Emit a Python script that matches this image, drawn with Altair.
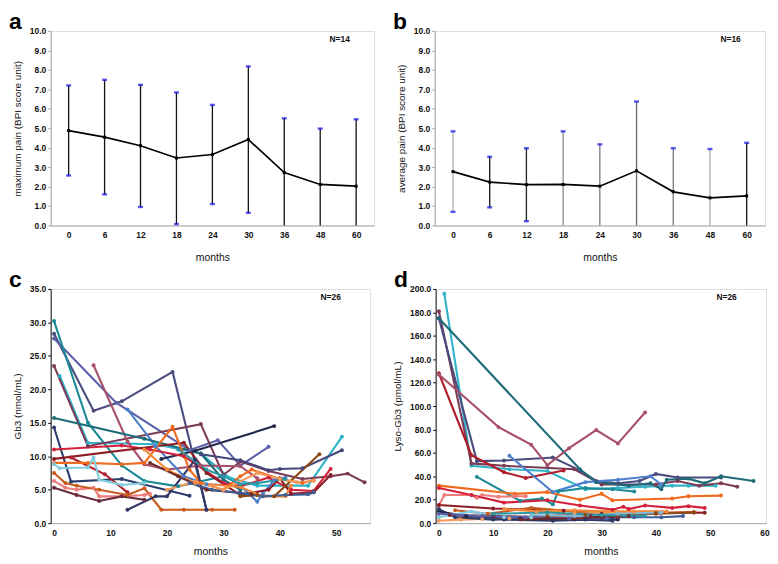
import altair as alt
import pandas as pd

FONT = "Liberation Sans"

# ---------------- panels a & b (BPI pain) ----------------
months_ab = ["0", "6", "12", "18", "24", "30", "36", "48", "60"]

a_mean = [4.88, 4.54, 4.10, 3.47, 3.65, 4.42, 2.72, 2.11, 2.02]
a_upper = [7.20, 7.49, 7.23, 6.84, 6.20, 8.18, 5.51, 4.98, 5.46]
a_lower = [2.57, 1.60, 0.95, 0.07, 1.10, 0.65, 0.0, 0.0, 0.0]
a_bar_colors = ["#111111"] * 9

b_mean = [2.77, 2.23, 2.10, 2.11, 2.02, 2.81, 1.73, 1.42, 1.52]
b_upper = [4.84, 3.53, 3.97, 4.84, 4.17, 6.37, 3.97, 3.93, 4.25]
b_lower = [0.70, 0.93, 0.22, 0.0, 0.0, 0.0, 0.0, 0.0, 0.0]
b_bar_colors = ["#b0b0b0", "#111111", "#222222", "#8a8a8a", "#7a7a7a",
                "#6a6a6a", "#7a7a7a", "#a8a8a8", "#111111"]

# ---------------- panel c (Gb3) ----------------
c01_m = [0, 7, 12, 21, 27];                 c01_v = [28.3, 16.8, 18.2, 22.6, 2.0]
c02_m = [0, 11, 24, 29, 33, 38];            c02_v = [27.6, 18.0, 10.9, 12.4, 8.6, 11.4]
c03_m = [0, 6, 12, 16, 22, 30];             c03_v = [30.2, 15.0, 8.6, 6.3, 5.5, 7.0]
c04_m = [1, 6, 18, 26, 31, 36, 45, 51];     c04_v = [22.0, 12.0, 11.8, 10.4, 6.8, 5.6, 5.6, 12.9]
c05_m = [0, 6, 26, 30, 33, 38, 44, 49, 52, 55]
c05_v = [23.5, 11.5, 14.8, 7.2, 9.2, 7.8, 6.6, 7.0, 7.4, 6.1]
c06_m = [7, 13, 16, 20, 26, 33, 36];        c06_v = [23.6, 12.2, 8.8, 8.0, 8.6, 8.5, 6.7]
c07_m = [13, 18, 23, 27, 33, 36, 37, 39, 41]
c07_v = [17.0, 11.5, 7.0, 5.8, 5.6, 3.2, 4.4, 6.4, 6.8]
c08_m = [0, 16, 26, 30, 33];                c08_v = [15.7, 12.6, 10.4, 6.5, 5.0]
c09_m = [0, 3, 12, 24];                     c09_v = [14.3, 6.2, 6.6, 4.1]
c10_m = [19, 25, 39];                       c10_v = [9.6, 10.8, 14.5]
c11_m = [26, 33, 38, 40, 44, 51];           c11_v = [10.3, 9.4, 7.9, 8.1, 8.2, 10.9]
c12_m = [0, 12, 17, 23, 30, 33, 38, 42, 46, 49]
c12_v = [11.0, 11.6, 11.0, 10.0, 6.0, 5.5, 6.8, 5.0, 4.8, 8.1]
c13_m = [0, 23, 27, 33, 38, 40, 42, 46, 49]
c13_v = [9.6, 12.0, 7.5, 4.2, 5.0, 6.7, 4.4, 4.6, 7.2]
c14_m = [3, 9, 13];                         c14_v = [9.8, 7.3, 4.6]
c15_m = [0, 6, 12, 16, 21, 24, 26, 30, 33, 35, 40, 44, 46]
c15_v = [9.0, 9.0, 8.8, 9.0, 14.4, 8.0, 6.0, 5.0, 7.0, 8.0, 6.6, 6.0, 6.4]
c16_m = [0, 1, 6, 7, 8, 12, 16];            c16_v = [8.8, 8.2, 8.3, 9.8, 6.5, 5.7, 6.0]
c17_m = [0, 2, 4, 7, 8, 12, 16, 17];        c17_v = [6.3, 5.3, 5.0, 5.3, 4.0, 4.0, 4.2, 4.4]
c18_m = [0, 2, 4, 8, 13, 16, 19, 23, 28, 32]
c18_v = [7.5, 6.0, 5.6, 5.0, 4.2, 5.2, 2.0, 2.0, 2.0, 2.0]
c19_m = [0, 4, 8, 12, 16];                  c19_v = [5.3, 4.2, 3.3, 4.0, 3.5]
c20_m = [13, 18, 20, 25, 27];               c20_v = [2.0, 4.0, 4.0, 9.5, 2.0]
c21_m = [33, 36, 39, 47];                   c21_v = [4.0, 4.2, 4.0, 10.3]
c22_m = [20, 25, 30, 36, 40, 43, 46];       c22_v = [5.0, 6.2, 5.0, 7.5, 6.6, 6.1, 6.3]
c23_m = [16, 20, 25, 33, 37, 41, 42];       c23_v = [11.0, 8.0, 6.0, 5.4, 4.0, 4.0, 5.6]
c24_m = [17, 22, 27, 33, 35];               c24_v = [9.0, 7.0, 5.0, 4.5, 4.3]
c25_m = [24, 28, 33, 37, 41, 45, 46];       c25_v = [6.0, 5.0, 4.5, 4.0, 4.2, 4.3, 4.6]
c26_m = [22, 27, 30, 33, 36, 41];           c26_v = [11.0, 8.0, 7.0, 5.8, 6.0, 6.6]

# ---------------- panel d (Lyso-Gb3) ----------------
d01_m = [1, 6, 13, 20, 27, 33, 38, 43, 46, 51]
d01_v = [196, 49, 46, 44.5, 29, 30, 31, 32, 32, 32]
d02_m = [0, 6, 12, 25, 30, 40, 44, 48, 52, 55]
d02_v = [181, 51, 49, 46, 33, 33, 36, 32, 34, 31]
d03_m = [0, 7, 12, 21, 26, 29, 33, 37, 40, 44, 52]
d03_v = [175, 53, 53.5, 56, 45, 36, 34, 36, 42, 39, 39]
d04_m = [0, 26, 29, 35, 39, 41, 42, 46, 49, 52, 58]
d04_v = [175, 46, 35, 32, 34, 29, 37, 38, 34, 40, 36]
d05_m = [0, 6, 12, 16, 23];                 d05_v = [128, 58, 43.5, 38.5, 45]
d06_m = [0, 11, 17, 20, 24, 29, 33, 38];    d06_v = [127, 82, 67, 49.5, 64, 79.5, 68, 94.5]
d07_m = [7, 15, 19, 21, 22, 27, 32, 36];    d07_v = [39.5, 19, 21, 16, 27, 30, 29, 27]
d08_m = [13, 21, 27, 33, 39, 41];           d08_v = [57.5, 26.5, 35, 37, 40, 33]
d09_m = [0, 14, 20, 26, 30, 32, 43, 46, 52]
d09_v = [32, 25, 26.5, 20, 25, 19.5, 21, 23, 23.5]
d10_m = [0, 1, 6, 7, 8, 11, 14, 16];        d10_v = [15, 24, 24, 21.5, 24, 22.5, 23, 23]
d11_m = [0, 6, 12, 20, 26, 32, 34, 35, 38, 43, 46, 49]
d11_v = [30, 24, 17.5, 19.5, 15, 11.5, 14, 12, 15, 13, 14.5, 13]
d12_m = [0, 10, 23, 30, 40, 47, 49];        d12_v = [15.5, 12.5, 10.5, 8, 8.5, 9, 8.8]
d13_m = [3, 9, 17, 25, 33, 40, 47];         d13_v = [11, 8, 13, 10, 9, 8.5, 9.5]
d14_m = [0, 4, 8, 13, 17, 25, 33, 41];      d14_v = [2, 3, 3.5, 4, 5, 8, 9, 10]
d15_m = [0, 3, 10, 20, 32];                 d15_v = [12, 5, 3, 4, 3]
d16_m = [0, 5, 15, 25, 33];                 d16_v = [10, 6, 4, 3, 3]
d17_m = [12, 21, 27, 32];                   d17_v = [3, 2, 3, 2]
d18_m = [30, 36, 41, 45];                   d18_v = [5, 5, 5, 6]
d19_m = [0, 6, 12, 17];                     d19_v = [5, 10, 5, 5]
d20_m = [2, 10, 20, 28, 33];                d20_v = [7, 6, 5, 6, 5]
d21_m = [20, 27, 33, 40, 47];               d21_v = [6, 7, 7, 8, 9]
d22_m = [0, 8, 16, 24, 31];                 d22_v = [8, 6, 5, 4, 4]
d23_m = [12, 18, 25, 31, 36, 42];           d23_v = [12, 10, 11, 10, 10, 10]
d24_m = [15, 20, 25, 30, 35];               d24_v = [3, 4, 4, 5, 6]
d25_m = [17, 25, 33, 41];                   d25_v = [7, 6, 8, 9]
d26_m = [10, 20, 30, 38];                   d26_v = [8, 9, 7, 6]

c_series = [(c01_m, c01_v), (c02_m, c02_v), (c03_m, c03_v), (c04_m, c04_v), (c05_m, c05_v),
            (c06_m, c06_v), (c07_m, c07_v), (c08_m, c08_v), (c09_m, c09_v), (c10_m, c10_v),
            (c11_m, c11_v), (c12_m, c12_v), (c13_m, c13_v), (c14_m, c14_v), (c15_m, c15_v),
            (c16_m, c16_v), (c17_m, c17_v), (c18_m, c18_v), (c19_m, c19_v), (c20_m, c20_v),
            (c21_m, c21_v), (c22_m, c22_v), (c23_m, c23_v), (c24_m, c24_v), (c25_m, c25_v),
            (c26_m, c26_v)]
d_series = [(d01_m, d01_v), (d02_m, d02_v), (d03_m, d03_v), (d04_m, d04_v), (d05_m, d05_v),
            (d06_m, d06_v), (d07_m, d07_v), (d08_m, d08_v), (d09_m, d09_v), (d10_m, d10_v),
            (d11_m, d11_v), (d12_m, d12_v), (d13_m, d13_v), (d14_m, d14_v), (d15_m, d15_v),
            (d16_m, d16_v), (d17_m, d17_v), (d18_m, d18_v), (d19_m, d19_v), (d20_m, d20_v),
            (d21_m, d21_v), (d22_m, d22_v), (d23_m, d23_v), (d24_m, d24_v), (d25_m, d25_v),
            (d26_m, d26_v)]

c_colors = ["#4a4c7e", "#5c60a8", "#1a8a96", "#2fb3c9", "#7b3a56", "#a8506a", "#4d7fcc",
            "#1d6b78", "#2b3d6b", "#23284d", "#45477a", "#d4213a", "#8c1c24", "#b0202e",
            "#f06a1e", "#80cde0", "#ef7b7b", "#c85a1e", "#6b2b3e", "#2f3766", "#8b4a14",
            "#f59a5c", "#f28a3a", "#6e2a2a", "#3c5e96", "#2a95a3"]
d_colors = ["#2fb3c9", "#7b3a56", "#4a4c7e", "#1d6b78", "#b01c2a", "#a8506a", "#1a8a96",
            "#4d7fcc", "#f06a1e", "#ef7b7b", "#d4213a", "#8c1c24", "#c85a1e", "#f59a5c",
            "#2b3d6b", "#23284d", "#2f3766", "#3c5e96", "#80cde0", "#6b2b3e", "#8b4a14",
            "#5c60a8", "#f28a3a", "#6e2a2a", "#7fb8d8", "#2a95a3"]


def label_layer(letter):
    return alt.Chart(pd.DataFrame({"t": [letter]})).mark_text(
        font=FONT, fontSize=23, fontWeight="bold", align="left", baseline="alphabetic",
        color="black").encode(text="t:N", x=alt.value(-42), y=alt.value(-2))


def n_layer(txt, xpos):
    return alt.Chart(pd.DataFrame({"t": [txt]})).mark_text(
        font=FONT, fontSize=8.5, fontWeight="bold", align="left", baseline="middle",
        color="#111").encode(text="t:N", x=alt.value(xpos), y=alt.value(8))


def pain_panel(letter, mean, upper, lower, bar_colors, ytitle, ntext, width, height):
    df = pd.DataFrame({"month": months_ab, "mean": mean, "upper": upper,
                       "lower": lower, "bc": bar_colors})
    x = alt.X("month:N", sort=months_ab, scale=alt.Scale(type="point", padding=0.5),
              axis=alt.Axis(title="months", labelAngle=0, ticks=False, domainColor="#a8a8a8",
                            labelFontWeight="bold", labelFontSize=8.5, labelPadding=5,
                            titlePadding=14, titleFontSize=10.5, titleFontWeight="normal"))
    yscale = alt.Scale(domain=[0, 10], nice=False)
    yaxis = alt.Axis(title=ytitle, values=list(range(0, 11)), format=".1f", grid=False,
                     tickSize=3, domainColor="#a8a8a8", tickColor="#a8a8a8",
                     labelFontWeight="bold", labelFontSize=8.5, labelPadding=2,
                     titlePadding=7, titleFontSize=10, titleFontWeight="normal")
    base = alt.Chart(df)
    rules = base.mark_rule(strokeWidth=1.3).encode(
        x=x, y=alt.Y("lower:Q", scale=yscale, axis=yaxis), y2="upper:Q",
        color=alt.Color("bc:N", scale=None))
    caps_up = base.mark_tick(color="#1010e8", size=5, thickness=2.4).encode(
        x=x, y=alt.Y("upper:Q", scale=yscale, axis=yaxis))
    caps_lo = base.transform_filter("datum.lower > 0").mark_tick(
        color="#1010e8", size=5, thickness=2.4).encode(
        x=x, y=alt.Y("lower:Q", scale=yscale, axis=yaxis))
    line = base.mark_line(color="black", strokeWidth=1.7).encode(
        x=x, y=alt.Y("mean:Q", scale=yscale, axis=yaxis))
    pts = base.mark_square(color="black", size=9, opacity=1).encode(
        x=x, y=alt.Y("mean:Q", scale=yscale, axis=yaxis))
    return alt.layer(rules, caps_up, caps_lo, line, pts,
                     n_layer(ntext, width - 45), label_layer(letter)).properties(
        width=width, height=height)


def spaghetti_panel(letter, prefix, series, colors, ymax, ystep, xmax, xvals, ytitle,
                    width, height):
    rows = []
    for i, (ms, vs) in enumerate(series):
        sid = f"{prefix}{i + 1:02d}"
        for m, v in zip(ms, vs):
            rows.append({"sid": sid, "col": colors[i], "m": m, "v": v})
    df = pd.DataFrame(rows)
    x = alt.X("m:Q", scale=alt.Scale(domain=[-0.6, xmax], nice=False, zero=False),
              axis=alt.Axis(title="months", values=xvals, format="d", ticks=False,
                            domainColor="#a8a8a8", grid=False, labelFontSize=8.5,
                            labelFontWeight="bold", labelPadding=5, titlePadding=10,
                            titleFontSize=10.5, titleFontWeight="normal"))
    y = alt.Y("v:Q", scale=alt.Scale(domain=[0, ymax], nice=False),
              axis=alt.Axis(title=ytitle, values=list(range(0, ymax + 1, ystep)),
                            format=".1f", grid=False, tickSize=3, domainColor="#111",
                            tickColor="#111", labelFontSize=8.5, labelFontWeight="bold",
                            labelPadding=2, titlePadding=7, titleFontSize=10,
                            titleFontWeight="normal"))
    lines = alt.Chart(df).mark_line(
        strokeWidth=2.1, point=alt.OverlayMarkDef(filled=True, size=16, opacity=1)).encode(
        x=x, y=y, detail="sid:N",
        color=alt.Color("col:N", scale=None))
    return alt.layer(lines, n_layer("N=26", width - 50), label_layer(letter)).properties(
        width=width, height=height)


pa = pain_panel("a", a_mean, a_upper, a_lower, a_bar_colors,
                "maximum pain (BPI score unit)", "N=14", 326, 196)
pb = pain_panel("b", b_mean, b_upper, b_lower, b_bar_colors,
                "average pain (BPI score unit)", "N=16", 333, 196)
pc = spaghetti_panel("c", "c", c_series, c_colors, 35, 5, 56, [0, 10, 20, 30, 40, 50],
                     "Gb3 (nmol/mL)", 322, 236)
pd_ = spaghetti_panel("d", "d", d_series, d_colors, 200, 20, 60.3,
                      [0, 10, 20, 30, 40, 50, 60], "Lyso-Gb3 (pmol/mL)", 333, 236)

chart = alt.vconcat(
    alt.hconcat(pa, pb, spacing=17),
    alt.hconcat(pc, pd_, spacing=21),
    spacing=4,
).properties(
    padding={"left": 0, "top": 0, "right": 0, "bottom": 0},
    background="white",
).configure_view(stroke=None).configure(font=FONT).configure_axis(
    labelFont=FONT, titleFont=FONT, labelColor="#111", titleColor="#111")

chart.save("out.html", embed_options={"renderer": "svg", "actions": False})
